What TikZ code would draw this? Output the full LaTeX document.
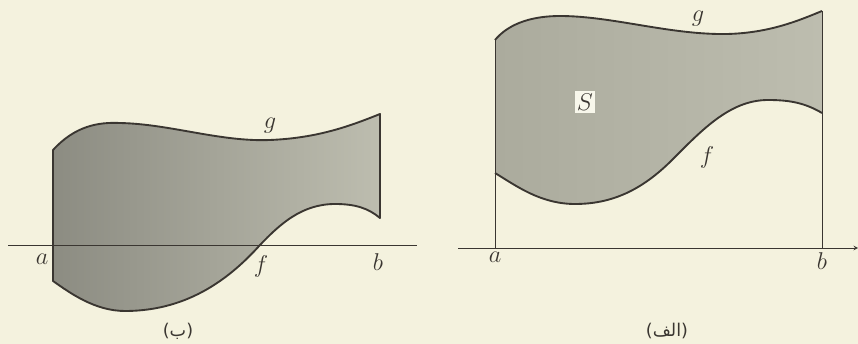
\documentclass[tikz,border=0pt]{standalone}
\usepackage{fontspec}
\newfontfamily\arabicfont[Script=Arabic]{DejaVu Sans}
\TeXXeTstate=1
\usetikzlibrary{arrows,positioning}
\definecolor{paper}{HTML}{F4F2DE}
\definecolor{ink}{HTML}{3A3631}
\definecolor{shadedark}{HTML}{8C8C82}
\definecolor{shadelight}{HTML}{BDBDAF}
\definecolor{shademid}{HTML}{ABAB9D}

\begin{document}
\begin{tikzpicture}[x=0.03cm, y=-0.03cm, >=stealth,
        boundary/.style={draw=ink, line width=1.6pt, line join=round},
        axisline/.style={draw=ink, line width=0.7pt},
        lab/.style={text=ink, font=\fontsize{20.74}{24}\selectfont, inner sep=1pt},
        figcap/.style={text=ink, font=\arabicfont\fontsize{15}{18}\selectfont}]
        % Paper
        \fill[paper] (0,0) rectangle (858,344);
        \useasboundingbox (0,0) rectangle (858,344);

        % Left figure (b)
        \coordinate (gLa) at (53,150);
        \coordinate (gLb) at (380,114);
        \coordinate (fLb) at (380,218);
        \coordinate (fLa) at (53,281);
        \fill[left color=shadedark, right color=shadelight]
            (gLa) .. controls (75,126) and (98,122) .. (120,123)
            .. controls (170,124) and (220,142) .. (270,140)
            .. controls (318,138) and (350,126) .. (gLb) -- (fLb)
            .. controls (368,208) and (355,204) .. (335,204)
            .. controls (302,204) and (280,224) .. (260,245)
            .. controls (232,276) and (190,311) .. (125,311)
            .. controls (95,311) and (70,293) .. (fLa) -- cycle;
        \draw[boundary]
            (gLa) .. controls (75,126) and (98,122) .. (120,123)
            .. controls (170,124) and (220,142) .. (270,140)
            .. controls (318,138) and (350,126) .. (gLb) -- (fLb)
            .. controls (368,208) and (355,204) .. (335,204)
            .. controls (302,204) and (280,224) .. (260,245)
            .. controls (232,276) and (190,311) .. (125,311)
            .. controls (95,311) and (70,293) .. (fLa) -- cycle;
        \coordinate (xLs) at (8,245);
        \coordinate (xLe) at (417,245);
        \draw[axisline] (xLs) -- (xLe);

        \node[lab] (gleft) at (270,126) {$g$};
        \node[lab] (aleft) at (42,259) {$a$};
        \node[lab] (fleft) at (261,266) {$f$};
        \node[lab] (bleft) at (378,262) {$b$};
        \node[figcap] (capb) at (178,331) {(ب)};

        % Right figure (alef)
        \coordinate (gRa) at (495,40);
        \coordinate (gRb) at (822,11);
        \coordinate (fRb) at (822,113);
        \coordinate (fRa) at (495,173);
        \coordinate (aR) at (495,248);
        \coordinate (bR) at (822,248);
        \fill[left color=shademid, right color=shadelight]
            (gRa) .. controls (510,22) and (535,16) .. (560,16)
            .. controls (612,16) and (670,35) .. (727,34)
            .. controls (770,33) and (800,20) .. (gRb) -- (fRb)
            .. controls (805,103) and (790,100) .. (768,100)
            .. controls (730,100) and (702,130) .. (672,160)
            .. controls (642,190) and (612,204) .. (575,204)
            .. controls (540,204) and (515,185) .. (fRa) -- cycle;
        \draw[boundary]
            (gRa) .. controls (510,22) and (535,16) .. (560,16)
            .. controls (612,16) and (670,35) .. (727,34)
            .. controls (770,33) and (800,20) .. (gRb);
        \draw[boundary]
            (fRb) .. controls (805,103) and (790,100) .. (768,100)
            .. controls (730,100) and (702,130) .. (672,160)
            .. controls (642,190) and (612,204) .. (575,204)
            .. controls (540,204) and (515,185) .. (fRa);
        \draw[axisline] (aR) -- (gRa);
        \draw[axisline] (bR) -- (gRb);
        \coordinate (xRs) at (458,248);
        \coordinate (xRe) at (858,248);
        \draw[axisline, ->] (xRs) -- (xRe);

        \node[lab] (gright) at (698,19) {$g$};
        \node[lab, fill=paper!60!white, inner sep=2pt] (sright) at (585,102) {$S$};
        \node[lab] (fright) at (707,157) {$f$};
        \node[lab, below=2pt of aR] (aright) {$a$};
        \node[lab, below=3pt of bR] (bright) {$b$};
        \node[figcap] (capa) at (667,331) {(الف)};
\end{tikzpicture}
\end{document}
